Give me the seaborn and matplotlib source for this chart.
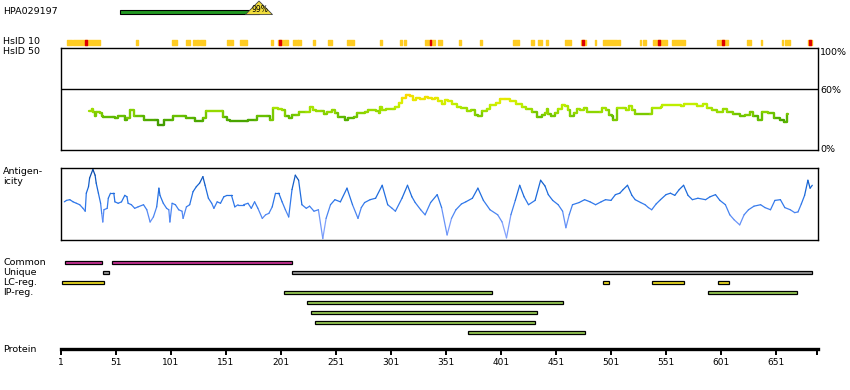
import numpy as np
import pandas as pd
import seaborn as sns
import matplotlib.pyplot as plt
from matplotlib.colors import LinearSegmentedColormap

sns.set_style("white")
plt.rcParams["font.family"] = ["DejaVu Sans"]
plt.rcParams["text.color"] = "black"
plt.rcParams["xtick.color"] = "black"

# ---------------- data ----------------
protein_len = 688
antigen_name = "HPA029197"
antigen_start, antigen_end = 55, 181
antigen_score = "99%"

hsid10_start = [6, 12, 69, 102, 115, 121, 124, 127, 152, 164, 192, 198, 204, 212, 216,
                230, 244, 261, 291, 309, 313, 332, 344, 363, 382, 412, 428, 435, 442,
                459, 474, 486, 494, 507, 527, 530, 539, 556, 597, 599, 625, 637, 656,
                659, 662, 680]
hsid10_end = [11, 36, 71, 106, 118, 123, 126, 132, 157, 170, 194, 203, 207, 216, 219,
              232, 247, 267, 293, 311, 315, 341, 347, 365, 384, 417, 431, 438, 444,
              465, 478, 487, 506, 509, 528, 533, 552, 568, 598, 607, 628, 638, 657,
              661, 664, 684]
hsid10_red = [23, 199, 336, 475, 544, 602, 681]

ident_pos = [26, 29, 30, 32, 33, 36, 38, 39, 48, 50, 53, 58, 59, 61, 64, 67, 74, 76, 86,
             89, 94, 95, 102, 103, 112, 115, 121, 123, 129, 130, 133, 147, 148, 152, 155,
             170, 171, 177, 179, 188, 191, 194, 198, 202, 205, 208, 211, 215, 217, 224,
             227, 230, 233, 237, 240, 243, 247, 250, 253, 258, 259, 262, 267, 270, 277,
             280, 287, 290, 291, 293, 296, 303, 305, 308, 311, 315, 318, 321, 324, 327,
             332, 335, 338, 341, 344, 347, 350, 353, 356, 361, 365, 370, 374, 377, 380,
             384, 388, 391, 396, 400, 405, 409, 415, 420, 424, 429, 434, 438, 441, 443,
             444, 446, 450, 453, 456, 459, 462, 464, 467, 470, 473, 476, 479, 491, 493,
             496, 499, 502, 503, 506, 512, 515, 517, 520, 523, 536, 538, 546, 547, 565,
             567, 576, 579, 585, 588, 593, 597, 603, 606, 612, 618, 623, 627, 630, 635,
             638, 644, 649, 655, 658, 661, 662]
ident_val = [38, 40, 37, 33, 37, 36, 33, 32, 32, 31, 33, 33, 29, 31, 39, 33, 33, 29, 29,
             25, 25, 29, 29, 33, 33, 31, 31, 28, 28, 31, 38, 38, 32, 29, 28,
             28, 29, 29, 33, 33, 29, 41, 40, 39, 33, 31, 34, 34, 37, 37,
             42, 39, 38, 38, 35, 37, 39, 36, 32, 32, 29, 31, 32, 36, 37,
             39, 38, 36, 42, 39, 40, 40, 42, 46, 51, 54, 53, 49, 51, 50,
             52, 51, 50, 51, 48, 45, 49, 48, 45, 42, 41, 38, 39, 34, 33,
             38, 40, 44, 46, 50, 50, 48, 45, 42, 40, 37, 32, 34, 36, 40,
             35, 33, 36, 40, 44, 43, 39, 33, 36, 40, 39, 41, 37, 37, 41,
             39, 34, 33, 29, 41, 41, 39, 43, 39, 35, 35, 41, 42, 44, 43,
             45, 45, 43, 45, 41, 39, 37, 40, 37, 35, 33, 34, 37, 33, 29,
             37, 36, 31, 29, 27, 35, 35]

antig_pos = [4, 6, 9, 12, 15, 18, 21, 23, 24, 26, 27, 30, 32, 33, 35, 37, 38, 39, 40, 43,
             44, 46, 49, 50, 53, 56, 59, 61, 62, 65, 68, 71, 76, 79, 82, 85, 88, 90, 91,
             94, 97, 99, 100, 102, 105, 108, 111, 112, 115, 118, 121, 124, 127, 130, 132,
             135, 138, 140, 143, 146, 149, 152, 156, 159, 162, 167, 171, 174, 177, 180,
             184, 187, 190, 193, 196, 199, 202, 205, 208, 211, 214, 217,
             220, 224, 227, 231, 235, 239, 242, 246, 250, 255, 261, 266, 271, 274, 277,
             282, 287, 293, 298, 302, 305, 311, 316, 320, 323, 328, 332, 337, 343, 347,
             352, 356, 360, 365, 369, 375, 380, 385, 391, 398, 402, 406, 410, 414, 418,
             422, 426, 432, 437, 441, 444, 448, 453, 457, 460, 463, 466, 472, 477, 482,
             487, 492, 496, 501, 505, 509, 512, 516, 520, 523, 528, 532, 535, 538, 542,
             546, 551, 555, 559, 563, 567, 571, 575, 580, 587, 591, 596, 600, 605, 609,
             613, 618, 622, 626, 631, 637, 641, 646, 650, 655, 659, 664, 668, 671, 674,
             677, 680, 682, 684]
antig_val = [0.53, 0.55, 0.56, 0.53, 0.51, 0.49, 0.44, 0.40, 0.65, 0.74, 0.86, 0.98, 0.90,
             0.79, 0.65, 0.51, 0.37, 0.25, 0.42, 0.44, 0.58, 0.65, 0.65, 0.53, 0.51, 0.53,
             0.62, 0.60, 0.51, 0.49, 0.44, 0.46, 0.49, 0.42, 0.25, 0.32, 0.46, 0.72, 0.62,
             0.51, 0.44, 0.42, 0.25, 0.51, 0.49, 0.42, 0.40, 0.30, 0.46, 0.49, 0.67, 0.74,
             0.79, 0.88, 0.76, 0.58, 0.51, 0.44, 0.53, 0.51, 0.60, 0.62, 0.62, 0.46, 0.49,
             0.49, 0.51, 0.44, 0.53, 0.44, 0.30, 0.35, 0.37, 0.46, 0.65, 0.65, 0.53, 0.42,
             0.32, 0.70, 0.90, 0.83,
             0.49, 0.44, 0.47, 0.40, 0.42, 0.02, 0.30, 0.49, 0.56, 0.53, 0.72, 0.49, 0.30,
             0.45, 0.52, 0.56, 0.58, 0.76, 0.49, 0.44, 0.40, 0.58, 0.76, 0.60, 0.52, 0.42,
             0.35, 0.52, 0.63, 0.45, 0.07, 0.30, 0.42, 0.50, 0.53, 0.58, 0.72, 0.55, 0.42,
             0.35, 0.25, 0.03, 0.35, 0.55, 0.76, 0.60, 0.49, 0.55, 0.83, 0.75, 0.63, 0.55,
             0.49, 0.40, 0.17, 0.35, 0.49, 0.52, 0.56, 0.53, 0.49, 0.53, 0.56, 0.55, 0.63,
             0.65, 0.70, 0.76, 0.62, 0.56, 0.52, 0.49, 0.45, 0.42, 0.50, 0.56, 0.63, 0.65,
             0.62, 0.70, 0.76, 0.62, 0.56, 0.58, 0.56, 0.60, 0.63, 0.55, 0.49, 0.35, 0.28,
             0.21, 0.35, 0.42, 0.47, 0.49, 0.45, 0.42, 0.55, 0.56, 0.45, 0.42, 0.38, 0.39,
             0.50, 0.62, 0.83, 0.72, 0.76]

feature_rows = ["Common", "Unique", "LC-reg.", "IP-reg."]
common_start, common_end = [5, 47], [38, 211]
unique_start, unique_end = [39, 211], [45, 684]
lc_start, lc_end = [2, 494, 538, 598], [40, 499, 567, 608]
ip_row = [0, 0, 1, 2, 3, 4]
ip_start = [204, 589, 225, 228, 232, 371]
ip_end = [393, 670, 457, 434, 432, 477]

tick_labels = [1, 51, 101, 151, 201, 251, 301, 351, 401, 451, 501, 551, 601, 651]

# ---------------- layout helpers ----------------
W, H = 850, 390
fig = plt.figure(figsize=(W / 100, H / 100), dpi=100)
X0, X1 = 61, 818
xmax = 1 + (X1 - X0) / 1.1


def panel(y0, y1):
    ax = fig.add_axes([X0 / W, 1 - y1 / H, (X1 - X0) / W, (y1 - y0) / H])
    ax.set_xlim(1, xmax)
    ax.set_xticks([])
    ax.set_yticks([])
    return ax


def label(y, text):
    fig.text(3 / W, 1 - y / H, text, fontsize=6.8, va="center", ha="left")


def seg_frame(pos, vals):
    # one little unit per step so each step gets its own colour
    rows = []
    for i in range(len(pos) - 1):
        lvl = (vals[i] + vals[i + 1]) / 2
        rows.append((pos[i], vals[i], lvl, i))
        rows.append((pos[i + 1], vals[i + 1], lvl, i))
    return pd.DataFrame(rows, columns=["res", "val", "level", "seg"])


def boxed(ax):
    for s in ax.spines.values():
        s.set_visible(True)
        s.set_color("black")
        s.set_linewidth(1)


# ---------------- antigen bar ----------------
ax = panel(0, 17)
ax.set_ylim(17, 0)
ax.axis("off")
ax.barh(12.3, antigen_end - antigen_start, left=antigen_start, height=4.2,
        color="#229922", edgecolor="black", linewidth=0.8)
half = 12.3
ax.fill([antigen_end - half, antigen_end + half, antigen_end],
        [14.6, 14.6, 1.0], color="#f0dc3c", edgecolor="#444444", linewidth=0.6)
ax.text(antigen_end + 1, 9.5, antigen_score, fontsize=5.5, ha="center", va="center")
label(12, antigen_name)

# ---------------- HsID 10 ----------------
ax = panel(38, 47)
ax.set_ylim(47, 38)
ax.axis("off")
ax.broken_barh([(s, e - s) for s, e in zip(hsid10_start, hsid10_end)], (40, 4.7),
               color="#ffcc22")
ax.broken_barh([(r, 1.8) for r in hsid10_red], (40, 4.7), color="#dd0000")
label(42, "HsID 10")

# ---------------- HsID 50 ----------------
ax = panel(48, 150)
ax.set_ylim(0, 100)
boxed(ax)
ax.axhline(60, color="black", lw=1)
id_cmap = LinearSegmentedColormap.from_list(
    "ident", ["#3f9900", "#5cb800", "#8fd600", "#b8ee00", "#dbee00", "#ffd800"])
sns.lineplot(data=seg_frame(ident_pos, ident_val), x="res", y="val", hue="level",
             units="seg", estimator=None, palette=id_cmap, hue_norm=(26, 54),
             legend=False, lw=1.7, drawstyle="steps-post", ax=ax)
ax.set_xlabel("")
ax.set_ylabel("")
ax.set_xticks([])
ax.set_yticks([])
for txt, v in [("100%", 96), ("60%", 58.5), ("0%", 0)]:
    ax.text(1.003, v / 100, txt, transform=ax.transAxes, fontsize=6.8, va="center")
label(52, "HsID 50")

# ---------------- Antigenicity ----------------
ax = panel(168, 240)
ax.set_ylim(0, 1)
boxed(ax)
ag_cmap = LinearSegmentedColormap.from_list(
    "antig", ["#8fa8ff", "#5b8cf5", "#2f78ea", "#1766d6", "#0a4aa8"])
sns.lineplot(data=seg_frame(antig_pos, antig_val), x="res", y="val", hue="level",
             units="seg", estimator=None, palette=ag_cmap, hue_norm=(0.1, 0.95),
             legend=False, lw=0.9, ax=ax)
ax.set_xlabel("")
ax.set_ylabel("")
ax.set_xticks([])
ax.set_yticks([])
label(172, "Antigen-")
label(182, "icity")

# ---------------- features ----------------
ax = panel(257.5, 337.5)
ax.set_ylim(7.5, -0.5)
ax.axis("off")
bh = 0.36
kw = dict(height=bh, edgecolor="black", linewidth=0.9)
ax.barh([0] * len(common_start), np.subtract(common_end, common_start),
        left=common_start, color="#cc3399", **kw)
ax.barh([1] * len(unique_start), np.subtract(unique_end, unique_start),
        left=unique_start, color="#999999", **kw)
ax.barh([2] * len(lc_start), np.subtract(lc_end, lc_start),
        left=lc_start, color="#eedd22", **kw)
ax.barh(np.add(ip_row, 3), np.subtract(ip_end, ip_start),
        left=ip_start, color="#99cc55", **kw)
for i, name in enumerate(feature_rows):
    label(262.5 + 10 * i, name)

# ---------------- protein axis ----------------
ax = fig.add_axes([X0 / W, 1 - 348.5 / H, (X1 - X0) / W, 0.5 / H])
ax.set_xlim(1, xmax)
for k in ["left", "right", "top"]:
    ax.spines[k].set_visible(False)
ax.spines["bottom"].set_linewidth(2.4)
ax.spines["bottom"].set_color("black")
ax.set_yticks([])
ax.set_xticks(tick_labels + [protein_len])
ax.set_xticklabels([str(t) for t in tick_labels] + [""])
ax.tick_params(axis="x", direction="out", length=4, width=1.4, pad=3,
               labelsize=6.5, bottom=True, colors="black")
label(349, "Protein")

fig.savefig("out.png", dpi=100)
